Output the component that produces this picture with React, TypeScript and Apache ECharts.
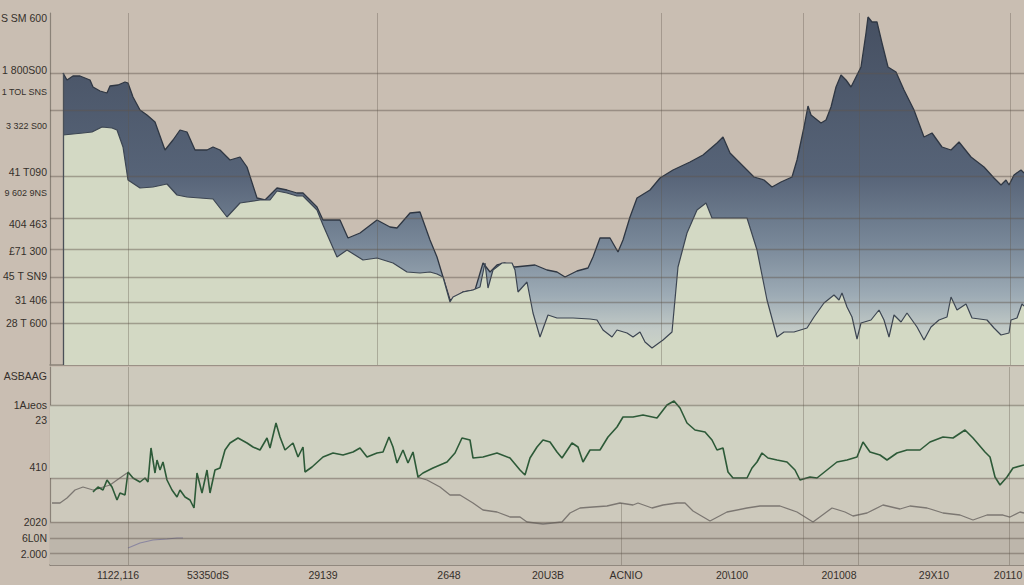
import React, { useEffect, useRef } from "react";
import * as echarts from "echarts";

// ---------- Top panel (time index, level) ----------
const upperT = [13,17,23,30,40,43,50,57,60,68,75,78,83,90,97,105,115,123,130,137,145,157,163,170,180,190,197,207,215,227,237,247,253,267,273,290,298,310,327,340,347,360,370,380,387,393,400,405,413,425,433,440,447,455,465,485,497,507,515,527,538,543,550,560,568,573,580,587,600,610,623,640,653,667,673,680,684,694,704,714,722,731,742,747,754,758,761,771,776,781,786,791,796,801,806,811,816,818,822,827,832,838,846,854,864,874,882,892,901,909,921,934,944,951,956,959,964,971,974];
const upperV = [292,285,289,289,285,278,274,272,279,280,283,282,268,255,250,243,215,225,235,233,215,215,218,215,205,208,198,167,165,177,175,172,172,158,145,145,127,132,145,138,137,152,153,125,108,88,65,67,73,75,102,93,100,102,98,100,95,93,88,94,97,108,127,127,113,125,148,167,175,187,195,203,210,222,228,212,208,198,188,185,178,183,188,205,238,259,250,242,245,258,278,290,285,278,288,298,332,348,343,343,322,298,293,275,255,228,232,218,215,223,208,198,187,180,185,180,190,195,192];

const lowerT = [13,23,33,42,52,62,67,73,78,90,103,117,127,137,150,163,177,190,210,220,227,237,247,253,267,273,287,297,313,327,343,357,370,380,387,393,400,403,413,423,430,435,438,443,452,462,465,468,477,483,490,498,507,523,540,547,553,562,567,577,583,590,595,602,613,622,628,637,647,656,662,680,697,707,717,727,734,744,757,764,774,784,789,792,797,802,807,811,821,829,834,839,844,851,857,867,874,881,889,897,901,907,916,922,937,944,951,959,961,967,972,974];
const lowerV = [230,231,232,233,238,237,235,218,185,177,178,181,170,168,167,166,148,162,165,165,174,172,169,169,155,140,108,115,105,107,102,93,92,93,91,88,63,68,73,75,78,102,77,95,102,102,95,73,83,52,28,50,47,47,46,45,35,28,35,32,28,33,23,17,25,33,98,132,155,162,147,147,147,115,65,28,33,33,37,48,62,70,65,72,58,48,26,42,45,55,45,28,50,43,52,38,25,38,45,48,68,55,61,47,45,37,30,32,45,47,61,59];

const topGridLevels = [292,255,189,147,116,88,63,42];
const topVerticalT = [78,327,611,753,809,960];
const topLabelValues = [347,295,273,239,193,172,141,114,89,65,42];
const topLabelTexts = ["S SM 600","1 800S00","1 TOL SNS","3 322 S00","41 T090","9 602 9NS","404 463","£71 300","45 T SN9","31 406","28 T 600"];

// ---------- Bottom panel ----------
const greenT = [43,48,53,57,62,67,70,75,78,83,90,95,98,101,105,107,110,113,117,122,127,130,135,140,144,147,152,157,160,165,170,175,180,188,197,203,210,217,220,226,230,235,243,248,253,255,262,273,283,293,303,310,317,327,333,339,343,347,353,358,363,368,373,383,397,405,412,420,423,433,447,460,470,475,480,487,493,500,507,512,522,528,533,540,550,558,567,573,583,593,607,617,624,630,637,645,655,662,667,673,678,683,697,702,707,712,718,727,737,745,750,760,767,777,787,797,807,813,820,830,837,847,857,870,880,893,903,915,923,935,940,945,950,957,963,974];
const greenV = [73,78,75,85,78,65,72,70,93,87,83,87,83,117,92,105,95,103,85,75,68,75,68,65,57,92,72,95,72,95,97,115,122,127,122,118,115,127,117,142,128,115,122,108,118,93,98,108,112,110,113,117,108,112,113,128,118,102,115,102,113,88,92,97,103,112,127,125,107,108,112,107,95,90,107,118,125,123,113,107,122,118,103,115,115,128,138,148,148,150,147,160,164,157,142,135,133,125,115,117,93,87,87,97,103,112,107,105,103,95,85,88,87,95,103,105,108,123,113,110,105,112,115,115,123,128,127,135,127,113,108,88,80,88,97,100];

const greyT = [2,10,17,25,33,43,50,60,67,77,null,367,377,390,400,410,423,433,447,460,470,477,493,512,520,530,543,557,570,583,588,602,613,627,635,643,660,677,697,710,730,747,763,782,795,803,817,833,850,860,877,893,910,923,937,953,960,970,974];
const greyV = [62,62,67,75,78,75,77,80,85,92,null,88,85,78,70,70,62,55,53,48,48,43,41,43,52,57,58,59,62,60,62,57,60,62,62,54,44,53,57,59,59,53,43,57,53,49,52,60,56,59,57,52,50,45,50,50,48,53,52];

const violetT = [78,90,103,117,127,133];
const violetV = [17,22,25,26,27,27];

const bottomGridLevels = [160,87,43,27,12];
const bottomVerticalT = [78,753,808,959];
const bottomLabelValues = [189,160,145,98,43,27,11];
const bottomLabelTexts = ["ASBAAG","1Aɹeos","23","410","2020","6L0N","2.000"];

const xLabelValues = [68,158,273,399,498,576,682,789,884,958];
const xLabelTexts = ["1122,116","53350dS","29139","2648","20U3B","ACNIO","20\\100","201008","29X10","20110"];

const zip = (t: (number | null)[], v: (number | null)[]) =>
  t.map((x, i) => (x === null ? [null, null] : [x, v[i]]));

// long labels use a slightly smaller rich style so they stay inside the page
const labelMap = (vals: number[], texts: string[], longLen = 99) => {
  const m: Record<number, string> = {};
  vals.forEach((v, i) => (m[v] = texts[i]));
  return (val: number) => {
    const s = m[Math.round(val)];
    if (!s) return "";
    return s.length >= longLen ? "{s|" + s + "}" : s;
  };
};

const FONT = "'Liberation Sans', Arial, sans-serif";
const BG = "#c9beb2";
const GRID_COLOR = "rgba(95,85,75,0.45)";
const VGRID_COLOR = "rgba(95,85,75,0.35)";
const LABEL_COLOR = "#35302b";

export default function App() {
  const ref = useRef<HTMLDivElement>(null);
  useEffect(() => {
    document.body.style.margin = "0";
    document.body.style.background = BG;
    if (!ref.current) return;
    const chart = echarts.init(ref.current, null, { renderer: "svg" });

    const hLines = (levels: number[]) => levels.map((v) => ({ yAxis: v }));
    const vLines = (ts: number[]) => ts.map((t) => ({ xAxis: t }));
    const axisLabelBase = {
      show: true, margin: 3, fontSize: 10.5, color: LABEL_COLOR, fontFamily: FONT,
      rich: { s: { fontSize: 9, color: LABEL_COLOR, fontFamily: FONT } },
    };

    const option: any = {
      animation: false,
      backgroundColor: BG,
      grid: [
        { left: 50, top: 13, width: 974, height: 352, outerBoundsMode: "none", containLabel: false },
        { left: 50, top: 367, width: 974, height: 198, show: true, backgroundColor: "#cdc9bc", borderWidth: 0, outerBoundsMode: "none", containLabel: false },
      ],
      xAxis: [
        {
          type: "value", gridIndex: 0, min: 0, max: 974,
          axisLine: { show: true, lineStyle: { color: "#8a8278", width: 1.5 } },
          axisTick: { show: false }, axisLabel: { show: false }, splitLine: { show: false },
        },
        {
          type: "value", gridIndex: 1, min: 0, max: 974, interval: 1,
          axisLine: { show: true, lineStyle: { color: "#7d766d", width: 1.5 } },
          axisTick: { show: false },
          splitLine: { show: false },
          axisLabel: { ...axisLabelBase, margin: 4, formatter: labelMap(xLabelValues, xLabelTexts), showMinLabel: true, showMaxLabel: true },
        },
      ],
      yAxis: [
        {
          type: "value", gridIndex: 0, min: 0, max: 352, interval: 1,
          axisLine: { show: true, lineStyle: { color: "#8a8278", width: 1.2 } },
          axisTick: { show: false }, splitLine: { show: false },
          axisLabel: { ...axisLabelBase, formatter: labelMap(topLabelValues, topLabelTexts, 9) },
        },
        {
          type: "value", gridIndex: 1, min: 0, max: 198, interval: 1,
          axisLine: { show: true, lineStyle: { color: "#8a8278", width: 1.2 } },
          axisTick: { show: false }, splitLine: { show: false },
          axisLabel: { ...axisLabelBase, formatter: labelMap(bottomLabelValues, bottomLabelTexts) },
        },
      ],
      series: [
        {
          type: "line", name: "upper", xAxisIndex: 0, yAxisIndex: 0,
          data: zip(upperT, upperV), showSymbol: false, z: 2,
          lineStyle: { color: "#2f3743", width: 1.3 },
          areaStyle: {
            opacity: 1,
            color: new echarts.graphic.LinearGradient(0, 0, 0, 1, [
              { offset: 0, color: "#465062" },
              { offset: 0.45, color: "#566377" },
              { offset: 0.65, color: "#788798" },
              { offset: 0.8, color: "#9dabb5" },
              { offset: 0.9, color: "#c3cbc7" },
              { offset: 1, color: "#d3d9c4" },
            ]),
          },
        },
        {
          type: "line", name: "lower", xAxisIndex: 0, yAxisIndex: 0,
          data: zip(lowerT, lowerV), showSymbol: false, z: 3,
          lineStyle: { color: "#3c4552", width: 1.2 },
          areaStyle: { opacity: 1, color: "#d3d9c4" },
          markLine: {
            silent: true, symbol: "none", label: { show: false },
            lineStyle: { color: GRID_COLOR, width: 1.4, type: "solid" },
            data: [
              ...hLines(topGridLevels),
              ...vLines(topVerticalT).map((d) => ({ ...d, lineStyle: { color: VGRID_COLOR, width: 1 } })),
              [
                { coord: [13, 292], lineStyle: { color: "#4a5058", width: 1.3 } },
                { coord: [13, 0] },
              ],
            ],
          },
        },
        {
          type: "line", name: "green", xAxisIndex: 1, yAxisIndex: 1,
          data: zip(greenT, greenV), showSymbol: false, z: 4,
          lineStyle: { color: "#2d5a38", width: 1.6 },
          markArea: {
            silent: true,
            data: [
              [{ yAxis: 87, itemStyle: { color: "#d0d2c2" } }, { yAxis: 160 }],
              [{ yAxis: 0, itemStyle: { color: "#bdb6ab" } }, { yAxis: 43 }],
            ],
          },
          markLine: {
            silent: true, symbol: "none", label: { show: false },
            lineStyle: { color: GRID_COLOR, width: 1.4, type: "solid" },
            data: [
              ...hLines(bottomGridLevels),
              ...vLines(bottomVerticalT).map((d) => ({ ...d, lineStyle: { color: VGRID_COLOR, width: 1 } })),
              [
                { coord: [571, 62], lineStyle: { color: VGRID_COLOR, width: 1 } },
                { coord: [571, 0] },
              ],
            ],
          },
        },
        {
          type: "line", name: "grey", xAxisIndex: 1, yAxisIndex: 1,
          data: zip(greyT, greyV), showSymbol: false, connectNulls: false, z: 3,
          lineStyle: { color: "#7c7772", width: 1.3 },
        },
        {
          type: "line", name: "violet", xAxisIndex: 1, yAxisIndex: 1,
          data: zip(violetT, violetV), showSymbol: false, z: 3,
          lineStyle: { color: "#8b87a0", width: 1.2 },
        },
      ],
    };
    chart.setOption(option);
    return () => chart.dispose();
  }, []);
  return <div ref={ref} style={{ width: 1024, height: 585 }} />;
}
